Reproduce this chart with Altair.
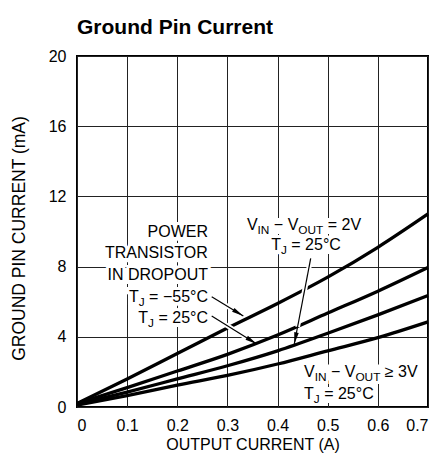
import math
import altair as alt
import pandas as pd

# ---------------- data ----------------
x_vals = [0, 0.1, 0.2, 0.3, 0.4, 0.5, 0.6, 0.7]
dropout_m55 = [0.2, 1.6, 3.05, 4.5, 5.9, 7.4, 9.1, 11.0]
dropout_25 = [0.2, 1.1, 2.05, 3.0, 4.1, 5.35, 6.6, 7.95]
vdiff2_25 = [0.15, 0.85, 1.6, 2.35, 3.2, 4.2, 5.25, 6.35]
vdiff3_25 = [0.1, 0.65, 1.25, 1.8, 2.45, 3.2, 3.95, 4.85]
series_names = ["dropout_m55", "dropout_25", "vdiff2_25", "vdiff3_25"]
x_ticks = [0, 0.1, 0.2, 0.3, 0.4, 0.5, 0.6, 0.7]
y_ticks = [0, 4, 8, 12, 16, 20]

FONT = "Liberation Sans"
W = H = 351
XMAX, YMAX = 0.7, 20
FS = 16         # annotation font size
AXFS = 16       # axis font size
SUB = 0.74      # subscript scale

rows = []
for name, ys in zip(series_names, [dropout_m55, dropout_25, vdiff2_25, vdiff3_25]):
    for xv, yv in zip(x_vals, ys):
        rows.append({"x": xv, "y": yv, "series": name})
curves = pd.DataFrame(rows)

# plot-pixel -> data helpers (for annotation placement)
def px2x(px):
    return (px - 77) * XMAX / W

def px2y(py):
    return (407 - py) * YMAX / H

# Arial / Liberation Sans widths (per 1000 em)
AW = {" ": 278, "=": 584, "\u2212": 584, "\u2265": 549, "\u00b0": 400, "A": 667, "C": 722,
      "D": 722, "E": 667, "I": 278, "J": 500, "N": 722, "O": 778, "P": 667, "R": 722,
      "S": 667, "T": 611, "U": 722, "V": 667, "W": 944}
for d in "0123456789":
    AW[d] = 556

def tw(s, size):
    return sum(AW.get(c, 556) for c in s) * size / 1000

bg = []

def line_pieces(pieces, start_px, base_px):
    out = []
    cur = start_px
    for txt, sub in pieces:
        size = FS * SUB if sub else FS
        lead = len(txt) - len(txt.lstrip(" "))
        cur += tw(" " * lead, size)
        body = txt.strip(" ")
        out.append({"text": body, "x": px2x(cur), "y": px2y(base_px + (4 if sub else 0)), "size": size})
        cur += tw(txt[lead:], size)
    bg.append({"x": px2x(start_px - 1), "x2": px2x(cur + 1),
               "y": px2y(base_px + 4), "y2": px2y(base_px - 12)})
    return out

def width_of(pieces):
    return sum(tw(t, FS * SUB if s else FS) for t, s in pieces)

tj55 = [("T", False), ("J", True), (" = \u221255\u00b0C", False)]
tj25 = [("T", False), ("J", True), (" = 25\u00b0C", False)]
v2 = [("V", False), ("IN", True), (" \u2212 V", False), ("OUT", True), (" = 2V", False)]
v3 = [("V", False), ("IN", True), (" \u2212 V", False), ("OUT", True), (" \u2265 3V", False)]

ann = []
for txt, base in [("POWER", 236.7), ("TRANSISTOR", 258.3), ("IN DROPOUT", 280)]:
    ann += line_pieces([(txt, False)], 208 - tw(txt, FS), base)
ann += line_pieces(tj55, 208 - width_of(tj55), 301.7)
ann += line_pieces(tj25, 208 - width_of(tj25), 323)
ann += line_pieces(v2, 304 - width_of(v2) / 2, 230)
ann += line_pieces(tj25, 306 - width_of(tj25) / 2, 250)
ann += line_pieces(v3, 304, 376.5)
ann += line_pieces(tj25, 304, 399)
ann_df = pd.DataFrame(ann)
bg_df = pd.DataFrame(bg)

title_df = pd.DataFrame([{"text": "Ground Pin Current", "x": px2x(77), "y": px2y(34.3)}])

# arrows (pixel anchor points converted to data)
arrows_px = [((211.7, 296.7), (243.3, 316)),
             ((211.7, 316), (256.7, 344)),
             ((310.7, 258.3), (294.3, 344))]
arr = []
for (sx, sy), (ex, ey) in arrows_px:
    ang = math.degrees(math.atan2(ex - sx, -(ey - sy))) % 360
    arr.append({"x": px2x(sx), "y": px2y(sy), "x2": px2x(ex), "y2": px2y(ey),
                "hx2": px2x(sx + 0.8 * (ex - sx)), "hy2": px2y(sy + 0.8 * (ey - sy)),
                "angle": ang})
arr_df = pd.DataFrame(arr)

xs = alt.Scale(domain=[0, XMAX], nice=False, zero=False)
ys = alt.Scale(domain=[0, YMAX], nice=False, zero=False)

X_AX = alt.Axis(
    values=x_ticks, format=".1~f", title="OUTPUT CURRENT (A)",
    grid=True, gridColor="#222", gridWidth=1, domain=False, ticks=False, tickSize=0,
    labelPadding=10, labelFontSize=AXFS, labelFont=FONT, labelColor="black",
    labelFlush=True, labelOverlap=False,
    titleFont=FONT, titleFontSize=AXFS, titleFontWeight="normal", titleColor="black",
    titleX=175.5, titleY=42, titleBaseline="alphabetic", titleAlign="center")
Y_AX = alt.Axis(
    values=y_ticks, title="GROUND PIN CURRENT (mA)",
    grid=True, gridColor="#222", gridWidth=1, domain=False, ticks=False, tickSize=0,
    labelPadding=11, labelFontSize=AXFS, labelFont=FONT, labelColor="black",
    labelFlush=False, labelOverlap=False,
    titleFont=FONT, titleFontSize=17.5, titleFontWeight="normal", titleColor="black",
    titleX=-58, titleY=182, titleAngle=270, titleAlign="center", titleBaseline="middle")

def X(f):
    return alt.X(f, scale=xs, axis=X_AX)

def Y(f):
    return alt.Y(f, scale=ys, axis=Y_AX)

text_bg = alt.Chart(bg_df).mark_rect(color="white", opacity=1).encode(
    x=X("x:Q"), y=Y("y:Q"), x2="x2:Q", y2="y2:Q")

base_lines = alt.Chart(curves).mark_line(
    color="black", strokeWidth=3.3, interpolate="monotone"
).encode(x=X("x:Q"), y=Y("y:Q"), detail="series:N")

arrow_halo = alt.Chart(arr_df).mark_rule(color="white", strokeWidth=5).encode(
    x=X("x:Q"), y=Y("y:Q"), x2="hx2:Q", y2="hy2:Q")
arrow_line = alt.Chart(arr_df).mark_rule(color="black", strokeWidth=1.2).encode(
    x=X("x:Q"), y=Y("y:Q"), x2="x2:Q", y2="y2:Q")
arrow_head = alt.Chart(arr_df).mark_point(
    shape="M0,0L-0.35,1.8L0.35,1.8Z", filled=True, color="black", opacity=1, size=170
).encode(x=X("x2:Q"), y=Y("y2:Q"), angle=alt.Angle("angle:Q", scale=None))

text_halo = alt.Chart(ann_df).mark_text(
    align="left", baseline="alphabetic", font=FONT, color="white",
    stroke="white", strokeWidth=6
).encode(x=X("x:Q"), y=Y("y:Q"), text="text:N", size=alt.Size("size:Q", scale=None))
text_fg = alt.Chart(ann_df).mark_text(
    align="left", baseline="alphabetic", font=FONT, color="black"
).encode(x=X("x:Q"), y=Y("y:Q"), text="text:N", size=alt.Size("size:Q", scale=None))

title_text = alt.Chart(title_df).mark_text(
    align="left", baseline="alphabetic", font=FONT, fontSize=21, fontWeight="bold", color="black"
).encode(x=X("x:Q"), y=Y("y:Q"), text="text:N")

chart = alt.layer(text_bg, base_lines, text_halo, arrow_halo, arrow_line, arrow_head, text_fg,
                  title_text).properties(
    width=W, height=H,
    autosize=alt.AutoSizeParams(type="none"),
    padding={"left": 69, "top": 48, "right": 3, "bottom": 46},
).configure_view(stroke="black", strokeWidth=2)

chart.save("out.html", embed_options={"renderer": "svg", "actions": False})
